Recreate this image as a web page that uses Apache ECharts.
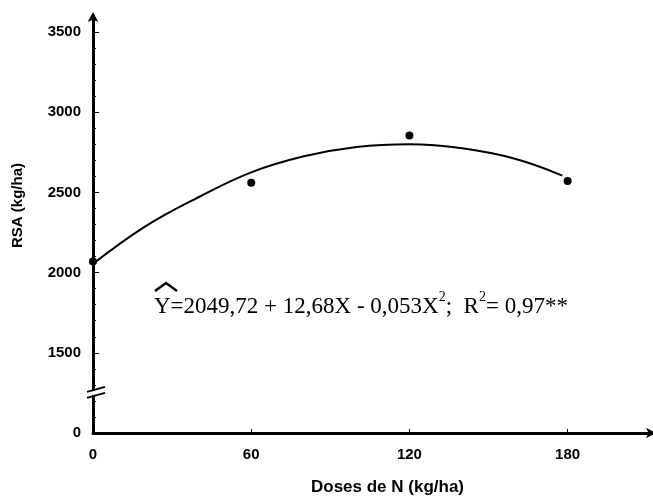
<!DOCTYPE html>
<html lang="pt">

<head>
  <meta charset="UTF-8">
  <title>RSA x Doses de N</title>
  <script src="https://cdn.jsdelivr.net/npm/echarts@6/dist/echarts.min.js"></script>
</head>

<body style="margin:0">
  <div id="main" style="width:653px;height:497px;"></div>
  <script type="text/javascript">
    // pontos observados (kg/ha)
    var doses = [0, 60, 120, 180];
    var rsa = [2070, 2560, 2855, 2572];

    // curva ajustada
    var curveX = [0, 20, 40, 60, 80, 100, 120, 140, 160, 178];
    var curveY = [2055, 2290, 2470, 2625, 2725, 2783, 2800, 2775, 2710, 2605];

    // o eixo y tem quebra: o valor 1000 aparece como "0"
    var yTicks = [1000, 1500, 2000, 2500, 3000, 3500];
    var yTickText = ['0', '1500', '2000', '2500', '3000', '3500'];
    var xTicks = [0, 60, 120, 180];

    var equation = '{t|Y=2049,72 + 12,68X - 0,053X}{s|2}{t|;  R}{s|2}{t|= 0,97**}';

    var myChart = echarts.init(document.getElementById('main'));

    var labelFont = {
      color: '#000',
      fontFamily: 'Liberation Sans',
      fontWeight: 'bold',
      fontSize: 15
    };

    var option = {
      backgroundColor: '#fff',
      animation: false,
      grid: { left: 93, right: 1, top: 16, bottom: 64, outerBoundsMode: 'none' },
      xAxis: {
        type: 'value',
        min: 0,
        max: 212,
        name: 'Doses de N (kg/ha)',
        nameLocation: 'middle',
        nameGap: 46,
        nameTextStyle: {
          color: '#000', fontFamily: 'Liberation Sans', fontWeight: 'bold',
          fontSize: 17, padding: [0, 0, 0, 30]
        },
        axisLine: {
          lineStyle: { color: '#000', width: 3 },
          symbol: ['none', 'arrow'], symbolSize: [8, 10], symbolOffset: [0, 4]
        },
        axisTick: { inside: true, length: 4, customValues: xTicks, lineStyle: { color: '#000' } },
        axisLabel: Object.assign({ customValues: xTicks, margin: 14 }, labelFont),
        splitLine: { show: false }
      },
      yAxis: {
        type: 'value',
        min: 1000,
        max: 3600,
        interval: 500,
        name: 'RSA (kg/ha)',
        nameLocation: 'middle',
        nameGap: 68,
        nameTextStyle: {
          color: '#000', fontFamily: 'Liberation Sans', fontWeight: 'bold',
          fontSize: 15, padding: [0, 0, 0, 38]
        },
        axisLine: {
          show: true,
          lineStyle: { color: '#000', width: 3 },
          symbol: ['none', 'arrow'], symbolSize: [8, 10], symbolOffset: [0, 4]
        },
        axisTick: { inside: true, length: 6, customValues: yTicks, lineStyle: { color: '#000' } },
        minorTick: { show: true, splitNumber: 5, length: 3, lineStyle: { color: '#000' } },
        axisLabel: Object.assign({
          customValues: yTicks,
          margin: 12,
          formatter: function (v) {
            var i = yTicks.indexOf(v);
            return i >= 0 ? yTickText[i] : '';
          }
        }, labelFont),
        splitLine: { show: false },
        minorSplitLine: { show: false }
      },
      series: [
        {
          type: 'line',
          smooth: 0.4,
          showSymbol: false,
          data: curveX.map(function (x, i) { return [x, curveY[i]]; }),
          lineStyle: { color: '#000', width: 2 },
          z: 2
        },
        {
          type: 'scatter',
          symbolSize: 8,
          data: doses.map(function (x, i) { return [x, rsa[i]]; }),
          itemStyle: { color: '#000', opacity: 1 },
          z: 3
        }
      ]
    };

    myChart.setOption(option);

    // quebra do eixo y e equacao
    var b = myChart.convertToPixel({ gridIndex: 0 }, [0, 1250]);
    myChart.setOption({
      graphic: [
        { type: 'rect', shape: { x: b[0] - 3, y: b[1] - 2, width: 6, height: 4 }, style: { fill: '#fff' }, z: 100 },
        { type: 'line', shape: { x1: b[0] - 6, y1: b[1] - 1, x2: b[0] + 12, y2: b[1] - 6 }, style: { stroke: '#000', lineWidth: 2 }, z: 101 },
        { type: 'line', shape: { x1: b[0] - 6, y1: b[1] + 5, x2: b[0] + 12, y2: b[1] }, style: { stroke: '#000', lineWidth: 2 }, z: 101 },
        {
          type: 'text', left: 154, top: 290, z: 100,
          style: {
            text: equation, fill: '#000',
            rich: {
              t: { fontFamily: 'Liberation Serif', fontSize: 23, lineHeight: 28, verticalAlign: 'bottom' },
              s: { fontFamily: 'Liberation Serif', fontSize: 14, lineHeight: 28, verticalAlign: 'top', padding: [0, 0, 10, 0] }
            }
          }
        },
        {
          type: 'polyline', z: 100,
          shape: { points: [[155, 291], [166, 283], [177, 291]] },
          style: { stroke: '#000', lineWidth: 2.5, fill: null }
        }
      ]
    });
  </script>
</body>

</html>
